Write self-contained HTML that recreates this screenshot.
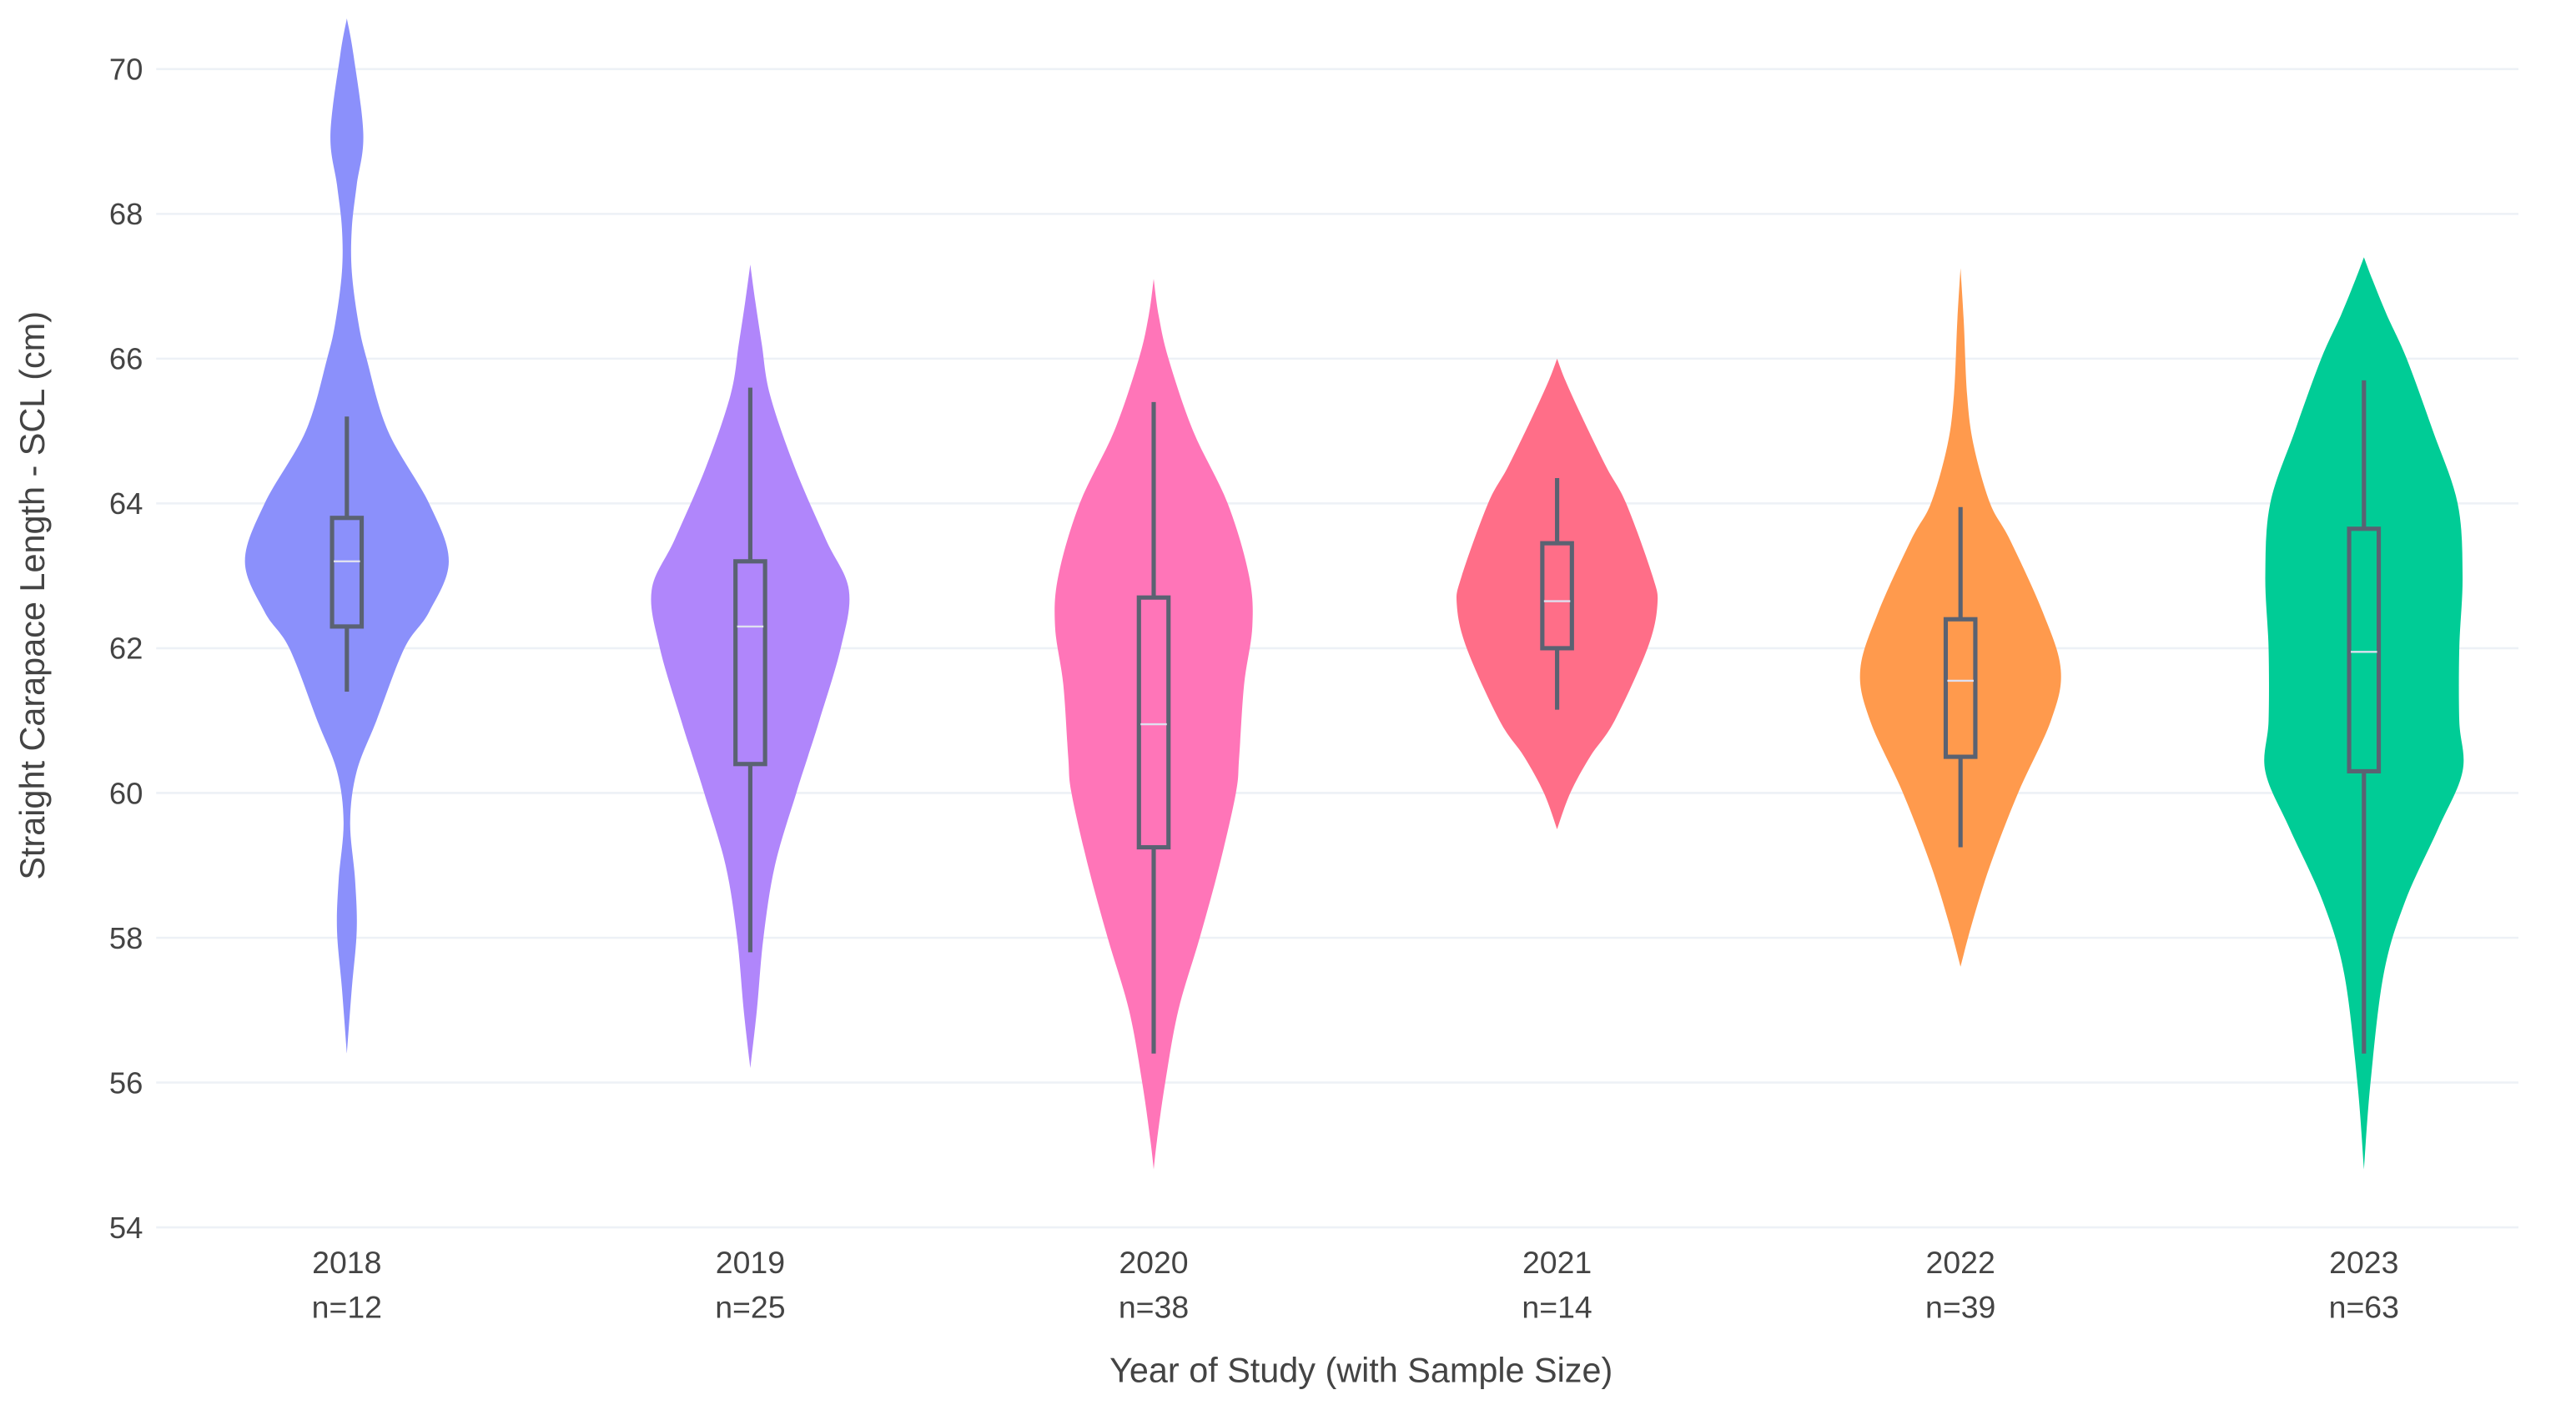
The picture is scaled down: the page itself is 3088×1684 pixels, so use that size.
<!DOCTYPE html>
<html><head><meta charset="utf-8"><style>
html,body{margin:0;padding:0;background:#fff;}
svg{display:block;}
text{font-family:"Liberation Sans",sans-serif;fill:#444;}
</style></head><body>
<svg id="chart" width="3088" height="1684" viewBox="0 0 1567 854" preserveAspectRatio="none" xmlns="http://www.w3.org/2000/svg">
<g id="grid"></g>
<g id="yticks"></g>
<g id="violins"></g>
<g id="xticks"></g>
<text transform="translate(27,362) rotate(-90)" text-anchor="middle" font-size="21">Straight Carapace Length - SCL (cm)</text>
<text x="828" y="840" text-anchor="middle" font-size="21">Year of Study (with Sample Size)</text>
</svg>
<script>
const categories = ["2018","2019","2020","2021","2022","2023"];
const sampleSizes = [12,25,38,14,39,63];
const colors = ["#8b90fb","#b086fb","#ff75b8","#ff6e88","#ff9a4d","#00cc96"];
const yTicks = [54,56,58,60,62,64,66,68,70];
// density profiles: [value, relative half-width]
const density2018 = [[70.7,0],[70.2,4],[69.1,10],[68.4,6],[67.8,3],[67.2,3],[66.5,7],[66,12],[65,25],[64,50],[63.2,62],[62.5,50],[62,35],[61,18],[60.3,6],[59.6,2],[58.8,5],[58.1,6],[57.3,3],[56.4,0]];
const density2019 = [[67.3,0],[66.8,3],[66.2,7],[65.5,12],[64.5,27],[63.5,46],[62.8,60],[62,55],[61,42],[60.5,35],[60,28],[59,15],[58,8],[57,4],[56.2,0]];
const density2020 = [[67.1,0],[66.6,3],[66,9],[65,24],[64,45],[63,58],[62.3,60],[61.5,55],[60.5,52],[60,50],[59,40],[58,28],[57,15],[56,7],[55.2,2],[54.8,0]];
const density2021 = [[66,0],[65.7,5],[65.2,15],[64.5,30],[64,42],[63,58],[62.6,61],[62,55],[61,35],[60.5,20],[60,8],[59.5,0]];
const density2022 = [[67.25,0],[66.5,2],[65.5,4],[64.8,8],[64,18],[63.5,30],[62.5,50],[61.7,61],[61,55],[60,35],[59,18],[58.2,7],[57.6,0]];
const density2023 = [[67.4,0],[67.1,5],[66.6,14],[66,26],[65,42],[64,57],[63,60],[62,58],[61,58],[60.3,60],[59.5,45],[58.5,25],[57.5,12],[56,4],[54.8,0]];
const densities = [density2018,density2019,density2020,density2021,density2022,density2023];
const q1 = [62.3,60.4,59.25,62.0,60.5,60.3];
const q3 = [63.8,63.2,62.7,63.45,62.4,63.65];
const medians = [63.2,62.3,60.95,62.65,61.55,61.95];
const whiskLo = [61.4,57.8,56.4,61.15,59.25,56.4];
const whiskHi = [65.2,65.6,65.4,64.35,63.95,65.7];

const NS="http://www.w3.org/2000/svg";
const y = v => 42 + (70 - v) * 44;
const x = i => 211 + i * 245.4;
function mk(tag, attrs, parent){const e=document.createElementNS(NS,tag);for(const k in attrs)e.setAttribute(k,attrs[k]);parent.appendChild(e);return e;}
const grid=document.getElementById('grid'), yt=document.getElementById('yticks'), vg=document.getElementById('violins'), xt=document.getElementById('xticks');
yTicks.forEach(t=>{
  const l=mk('line',{x1:95,x2:1532,y1:y(t),y2:y(t),stroke:"#edf1f6","stroke-width":1.3},grid);
  
  
  const tx=mk('text',{x:87,y:y(t)+6.5,"text-anchor":"end","font-size":18.5},yt);
  tx.textContent=t;
  
  
});
function smooth(pts){
  let d="M"+pts[0][0]+","+pts[0][1];
  for(let i=0;i<pts.length-1;i++){
    const p0=pts[i-1]||pts[i],p1=pts[i],p2=pts[i+1],p3=pts[i+2]||p2;
    const c1=[p1[0]+(p2[0]-p0[0])/6,p1[1]+(p2[1]-p0[1])/6];
    const c2=[p2[0]-(p3[0]-p1[0])/6,p2[1]-(p3[1]-p1[1])/6];
    d+=" C"+c1[0]+","+c1[1]+" "+c2[0]+","+c2[1]+" "+p2[0]+","+p2[1];
  }
  return d;
}
categories.forEach((c,i)=>{
  const cx=x(i), d=densities[i];
  const right=d.map(p=>[cx+p[1],y(p[0])]);
  const left=d.slice().reverse().map(p=>[cx-p[1],y(p[0])]);
  const path=mk('path',{d:smooth(right)+" L"+smooth(left).slice(1)+" Z",fill:colors[i]},vg);
  
  
  const w=mk('line',{x1:cx,x2:cx,y1:y(whiskHi[i]),y2:y(whiskLo[i]),stroke:"#5a6272","stroke-width":2.6},vg);
  
  
  const b=mk('rect',{x:cx-9,y:y(q3[i]),width:18,height:y(q1[i])-y(q3[i]),fill:colors[i],stroke:"#5a6272","stroke-width":2.6},vg);
  
  
  const m=mk('line',{x1:cx-8,x2:cx+8,y1:y(medians[i]),y2:y(medians[i]),stroke:"#dfe0f0","stroke-width":1.2},vg);
  
  
  const t1=mk('text',{x:cx,y:774,"text-anchor":"middle","font-size":19},xt);
  t1.textContent=c;
  
  
  const t2=mk('text',{x:cx,y:801,"text-anchor":"middle","font-size":19},xt);
  t2.textContent="n="+sampleSizes[i];
  
  
});
</script>
</body></html>
